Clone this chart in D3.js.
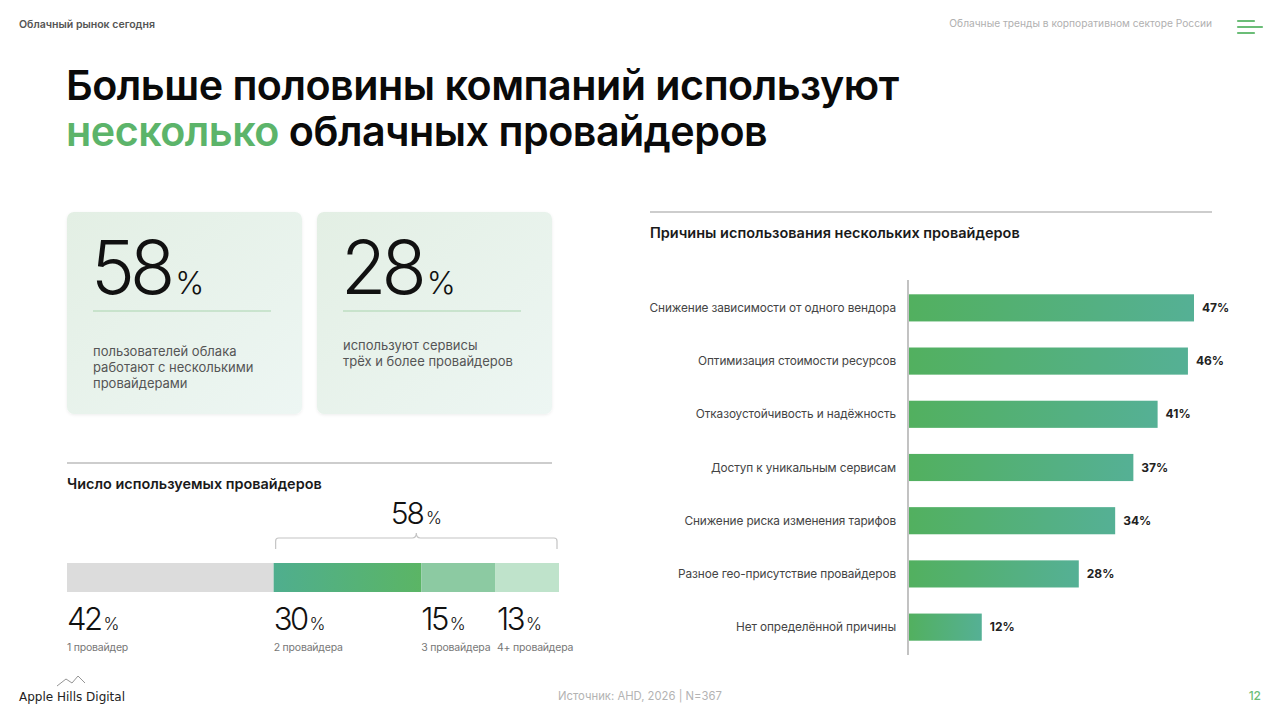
<!DOCTYPE html>
<html><head><meta charset="utf-8">
<script src="https://cdn.jsdelivr.net/npm/d3@7"></script>
<style>
html,body{margin:0;padding:0;background:#fff;}
svg{display:block;font-family:Inter,"Noto Sans",sans-serif;}
</style></head>
<body>
<svg id="c" width="1280" height="720"></svg>
<script>
// ---- data ----
const headerLeft = "Облачный рынок сегодня";
const headerRight = "Облачные тренды в корпоративном секторе России";
const titleLine1 = "Больше половины компаний используют";
const titleLine2Accent = "несколько";
const titleLine2Rest = " облачных провайдеров";
const kpiValues = [58, 28];
const kpiTexts = [
  ["пользователей облака", "работают с несколькими", "провайдерами"],
  ["используют сервисы", "трёх и более провайдеров"]
];
const providerTitle = "Число используемых провайдеров";
const providerLabels = ["1 провайдер", "2 провайдера", "3 провайдера", "4+ провайдера"];
const providerValues = [42, 30, 15, 13];
const reasonsTitle = "Причины использования нескольких провайдеров";
const reasons = [
  "Снижение зависимости от одного вендора",
  "Оптимизация стоимости ресурсов",
  "Отказоустойчивость и надёжность",
  "Доступ к уникальным сервисам",
  "Снижение риска изменения тарифов",
  "Разное гео-присутствие провайдеров",
  "Нет определённой причины"
];
const reasonValues = [47, 46, 41, 37, 34, 28, 12];
const sourceText = "Источник: AHD, 2026 | N=367";
const pageNumber = "12";
const brand = "Apple Hills Digital";

const GREEN = "#5cb46a";
const svg = d3.select("#c");
const defs = svg.append("defs");

// gradients
const gCard = defs.append("linearGradient").attr("id","gCard").attr("x1","0").attr("y1","0").attr("x2","1").attr("y2","1");
gCard.append("stop").attr("offset","0").attr("stop-color","#e3efe4");
gCard.append("stop").attr("offset","1").attr("stop-color","#edf6f3");
const gBar = defs.append("linearGradient").attr("id","gBar").attr("x1","0").attr("y1","0").attr("x2","1").attr("y2","0");
gBar.append("stop").attr("offset","0").attr("stop-color","#52b05f");
gBar.append("stop").attr("offset","1").attr("stop-color","#55b095");
const gSeg = defs.append("linearGradient").attr("id","gSeg").attr("x1","0").attr("y1","0").attr("x2","1").attr("y2","0");
gSeg.append("stop").attr("offset","0").attr("stop-color","#4fae8e");
gSeg.append("stop").attr("offset","1").attr("stop-color","#5bb565");
const shadow = defs.append("filter").attr("id","sh").attr("x","-10%").attr("y","-10%").attr("width","120%").attr("height","120%");
shadow.append("feDropShadow").attr("dx",0).attr("dy",1).attr("stdDeviation",1.5).attr("flood-color","#000").attr("flood-opacity",0.07);

function fit(sel, w){ const l = sel.node().getComputedTextLength(); const fs = +sel.attr("font-size"); sel.attr("font-size", fs*w/l); }

// header
const hl = svg.append("text").attr("x",19).attr("y",28).attr("font-size",11).attr("font-weight",600).attr("fill","#555").text(headerLeft);
fit(hl, 136);
const hr = svg.append("text").attr("x",1212).attr("y",27).attr("text-anchor","end").attr("font-size",11).attr("fill","#b0b0b0").text(headerRight);
fit(hr, 263);
[[21,1254],[27,1262],[33,1254]].forEach(([y,x2])=>{
  svg.append("line").attr("x1",1238).attr("x2",x2).attr("y1",y).attr("y2",y).attr("stroke","#6bbd77").attr("stroke-width",2.2).attr("stroke-linecap","round");
});

// title
const t1 = svg.append("text").attr("x",66).attr("y",100).attr("font-size",44).attr("font-weight",600).attr("fill","#0a0a0a").attr("letter-spacing","-0.5").text(titleLine1);
fit(t1, 834);
const t2 = svg.append("text").attr("x",66).attr("y",146).attr("font-size",t1.attr("font-size")).attr("font-weight",600).attr("fill","#0a0a0a").attr("letter-spacing","-0.5");
t2.append("tspan").attr("fill",GREEN).text(titleLine2Accent);
t2.append("tspan").text(titleLine2Rest);

// KPI cards
const cardX = [67, 317];
kpiValues.forEach((v,i)=>{
  const x = cardX[i];
  svg.append("rect").attr("x",x).attr("y",212).attr("width",235).attr("height",202).attr("rx",7).attr("fill","url(#gCard)").attr("filter","url(#sh)");
  const t = svg.append("text").attr("x",x+24).attr("y",294).attr("fill","#111");
  t.append("tspan").attr("font-size",74).attr("font-weight",300).attr("letter-spacing","-5").text(v);
  t.append("tspan").attr("font-size",31).attr("font-weight",300).attr("dx",5).text("%");
  svg.append("line").attr("x1",x+26).attr("x2",x+204).attr("y1",311).attr("y2",311).attr("stroke","#a9d4ae").attr("stroke-width",1);
  const base = i===0 ? 356 : 350;
  kpiTexts[i].forEach((line,j)=>{
    svg.append("text").attr("x",x+26).attr("y",base+j*16).attr("font-size",13).attr("fill","#555").text(line);
  });
});

// Provider count section
svg.append("line").attr("x1",67).attr("x2",552).attr("y1",463).attr("y2",463).attr("stroke","#bdbdbd").attr("stroke-width",1.3);
const pt = svg.append("text").attr("x",67).attr("y",489).attr("font-size",14).attr("font-weight",600).attr("fill","#1a1a1a").text(providerTitle);
fit(pt, 255);

const total = d3.sum(providerValues);
const xs = d3.scaleLinear().domain([0,total]).range([67,559]);
const cum = d3.cumsum(providerValues);
const segs = providerValues.map((v,i)=>({v, label:providerLabels[i], x0: i?cum[i-1]:0, x1: cum[i]}));
const segFill = ["#dcdcdc","url(#gSeg)","#8ccaa2","#bfe3cb"];
svg.append("g").selectAll("rect").data(segs).join("rect")
  .attr("x",d=>xs(d.x0)).attr("width",d=>xs(d.x1)-xs(d.x0))
  .attr("y",563).attr("height",29).attr("fill",(d,i)=>segFill[i]);

const lab = svg.append("g").selectAll("g").data(segs).join("g").attr("transform",(d,i)=>`translate(${xs(d.x0)+(i===3?2:0)},0)`);
const lt = lab.append("text").attr("y",630).attr("fill","#111");
lt.append("tspan").attr("font-size",31).attr("font-weight",300).attr("letter-spacing","-2.5").text(d=>d.v);
lt.append("tspan").attr("font-size",17).attr("font-weight",300).attr("dx",3).text("%");
lab.append("text").attr("y",651).attr("font-size",10.5).attr("letter-spacing","-0.2").attr("fill","#777").text(d=>d.label);

// bracket for multi
const multi = d3.sum(providerValues.slice(1));
const bx0 = xs(cum[0])+2, bx1 = xs(total)-2, bm = (bx0+bx1)/2;
svg.append("path").attr("d",`M${bx0},549 V541 Q${bx0},538 ${bx0+3},538 H${bm-4} Q${bm},538 ${bm},533 Q${bm},538 ${bm+4},538 H${bx1-3} Q${bx1},538 ${bx1},541 V549`)
  .attr("fill","none").attr("stroke","#c4c4c4").attr("stroke-width",1.2);
const mt = svg.append("text").attr("x",bm).attr("y",524).attr("text-anchor","middle").attr("fill","#111");
mt.append("tspan").attr("font-size",30).attr("font-weight",300).attr("letter-spacing","-2").text(multi);
mt.append("tspan").attr("font-size",17).attr("font-weight",300).attr("dx",3).text("%");

// Reasons chart
svg.append("line").attr("x1",650).attr("x2",1212).attr("y1",212).attr("y2",212).attr("stroke","#bdbdbd").attr("stroke-width",1.3);
const rt = svg.append("text").attr("x",650).attr("y",238).attr("font-size",14).attr("font-weight",600).attr("fill","#1a1a1a").text(reasonsTitle);
fit(rt, 370);

const xr = d3.scaleLinear().domain([0, d3.max(reasonValues)]).range([909, 1194]);
const yr = d3.scaleBand().domain(reasons).range([281, 654]).paddingInner(0.49).paddingOuter(0.25);
svg.append("line").attr("x1",908).attr("x2",908).attr("y1",280).attr("y2",655).attr("stroke","#9a9a9a").attr("stroke-width",1.2);
const rows = svg.append("g").selectAll("g").data(reasons.map((r,i)=>({r,v:reasonValues[i]}))).join("g");
rows.append("rect").attr("x",xr(0)).attr("y",d=>yr(d.r)).attr("height",yr.bandwidth()).attr("width",d=>xr(d.v)-xr(0)).attr("fill","url(#gBar)");
rows.append("text").attr("x",896).attr("y",d=>yr(d.r)+yr.bandwidth()/2).attr("dy","0.35em").attr("text-anchor","end").attr("font-size",11.8).attr("letter-spacing","-0.1").attr("fill","#444").text(d=>d.r);
rows.append("text").attr("x",d=>xr(d.v)+8).attr("y",d=>yr(d.r)+yr.bandwidth()/2).attr("dy","0.35em").attr("font-size",12).attr("font-weight",700).attr("fill","#222").text(d=>d.v+"%");

// Footer
svg.append("polyline").attr("points","57,686 66,679 72,683 78,676 85,683").attr("fill","none").attr("stroke","#888").attr("stroke-width",0.9);
svg.append("text").attr("x",19).attr("y",701).attr("font-family","'DejaVu Sans',sans-serif").attr("font-size",12).attr("fill","#222").text(brand);
const st = svg.append("text").attr("x",640).attr("y",700).attr("text-anchor","middle").attr("font-size",12).attr("fill","#b3b3b3").text(sourceText);
fit(st, 164);
svg.append("text").attr("x",1261).attr("y",700).attr("text-anchor","end").attr("font-size",12).attr("font-weight",500).attr("fill","#6bbd77").text(pageNumber);
</script>
</body></html>
